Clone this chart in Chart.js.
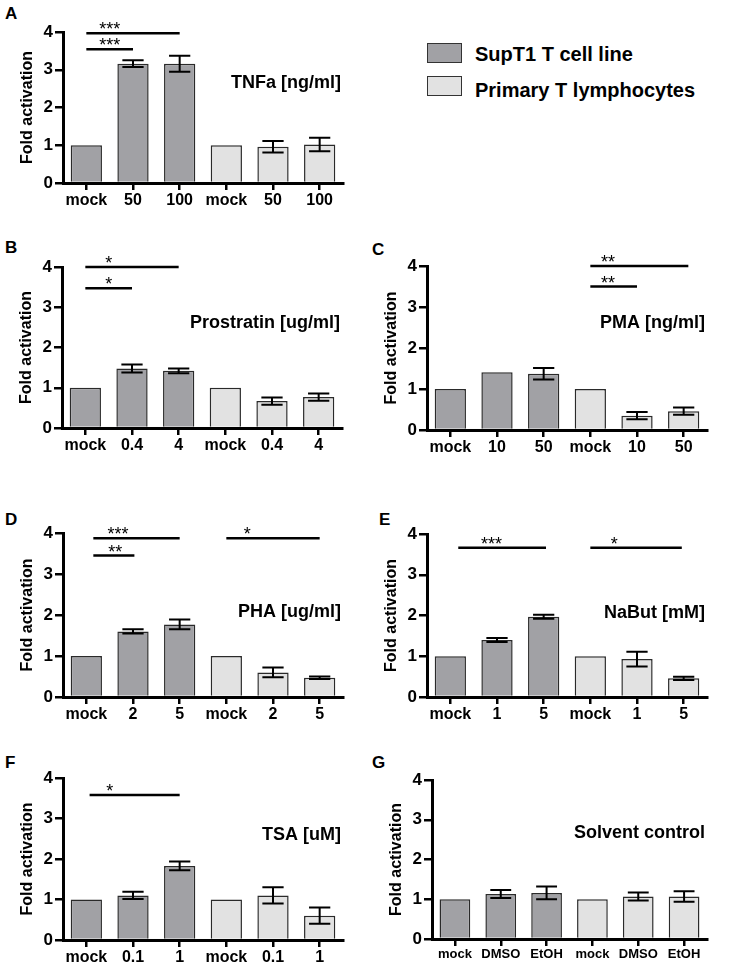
<!DOCTYPE html>
<html>
<head>
<meta charset="utf-8">
<script src="https://cdn.jsdelivr.net/npm/chart.js@4.4.1/dist/chart.umd.min.js"></script>
<style>
  body { margin: 0; background: #fff; width: 734px; height: 968px; position: relative; overflow: hidden;
         font-family: "Liberation Sans", Arial, sans-serif; }
  .letter { position: absolute; font-weight: bold; font-size: 17px; line-height: 17px; }
  .lgbox { position: absolute; width: 33px; height: 18px; border: 1.5px solid #333; }
  .lgtext { position: absolute; font-weight: bold; font-size: 20px; line-height: 20px; white-space: nowrap; }
  canvas { position: absolute; }
</style>
</head>
<body>

<div class="letter" style="left:5px;top:5px">A</div>
<div class="letter" style="left:5px;top:239px">B</div>
<div class="letter" style="left:372px;top:241px">C</div>
<div class="letter" style="left:5px;top:511px">D</div>
<div class="letter" style="left:379px;top:511px">E</div>
<div class="letter" style="left:5px;top:754px">F</div>
<div class="letter" style="left:372px;top:754px">G</div>

<div class="lgbox" style="left:427px;top:43px;background:#a1a1a5"></div>
<div class="lgtext" style="left:475px;top:44px">SupT1 T cell line</div>
<div class="lgbox" style="left:427px;top:76px;background:#e2e2e2"></div>
<div class="lgtext" style="left:475px;top:80px">Primary T lymphocytes</div>

<script>
// values (mean and error bar half-length)
var tnfLabels = ["mock", "50", "100", "mock", "50", "100"];
var tnfSupT1 = [1, 3.16, 3.16];
var tnfSupT1Err = [0, 0.09, 0.21];
var tnfPrimary = [1, 0.96, 1.02];
var tnfPrimaryErr = [0, 0.15, 0.18];
var tnfSig = [[0, 2, 3.97, "***", 0.5], [0, 1, 3.54, "***", 0.5]];

var proLabels = ["mock", "0.4", "4", "mock", "0.4", "4"];
var proSupT1 = [1, 1.48, 1.42];
var proSupT1Err = [0, 0.1, 0.06];
var proPrimary = [1, 0.67, 0.77];
var proPrimaryErr = [0, 0.09, 0.09];
var proSig = [[0, 2, 4, "*", 0.5], [0, 1, 3.47, "*", 0.5]];

var pmaLabels = ["mock", "10", "50", "mock", "10", "50"];
var pmaSupT1 = [1, 1.41, 1.37];
var pmaSupT1Err = [0, 0, 0.14];
var pmaPrimary = [1, 0.35, 0.46];
var pmaPrimaryErr = [0, 0.09, 0.09];
var pmaSig = [[3, 5.1, 4, "**", 3.38], [3, 4, 3.5, "**", 3.38]];

var phaLabels = ["mock", "2", "5", "mock", "2", "5"];
var phaSupT1 = [1, 1.6, 1.77];
var phaSupT1Err = [0, 0.05, 0.12];
var phaPrimary = [1, 0.6, 0.47];
var phaPrimaryErr = [0, 0.12, 0.03];
var phaSig = [[0.15, 2, 3.87, "***", 0.68], [0.15, 1.03, 3.45, "**", 0.62], [3, 5, 3.87, "*", 3.45]];

var nabLabels = ["mock", "1", "5", "mock", "1", "5"];
var nabSupT1 = [1, 1.4, 1.97];
var nabSupT1Err = [0, 0.05, 0.05];
var nabPrimary = [1, 0.93, 0.46];
var nabPrimaryErr = [0, 0.18, 0.04];
var nabSig = [[0.17, 2.05, 3.66, "***", 0.88], [3, 4.96, 3.66, "*", 3.51]];

var tsaLabels = ["mock", "0.1", "1", "mock", "0.1", "1"];
var tsaSupT1 = [1, 1.1, 1.83];
var tsaSupT1Err = [0, 0.09, 0.11];
var tsaPrimary = [1, 1.1, 0.6];
var tsaPrimaryErr = [0, 0.2, 0.2];
var tsaSig = [[0.07, 2, 3.58, "*", 0.5]];

var solLabels = ["mock", "DMSO", "EtOH", "mock", "DMSO", "EtOH"];
var solSupT1 = [1, 1.13, 1.16];
var solSupT1Err = [0, 0.1, 0.16];
var solPrimary = [1, 1.07, 1.07];
var solPrimaryErr = [0, 0.1, 0.13];
var solSig = [];

var supColor = "#a1a1a5";
var priColor = "#e2e2e2";

Chart.defaults.font.family = '"Liberation Sans", Arial, sans-serif';
Chart.defaults.font.weight = "bold";
Chart.defaults.color = "#000";

var YW = 45, XH = 32, PADTOP = 30, PADRIGHT = 8;

var errorBars = {
  id: "errorBars",
  afterDatasetsDraw: function (chart) {
    var ctx = chart.ctx, y = chart.scales.y;
    ctx.save();
    ctx.strokeStyle = "#000";
    ctx.lineWidth = 2;
    chart.data.datasets.forEach(function (ds, i) {
      var meta = chart.getDatasetMeta(i);
      meta.data.forEach(function (bar, j) {
        var v = ds.data[j], e = ds.errors[j];
        if (v == null || !e) return;
        var top = y.getPixelForValue(v + e), bot = y.getPixelForValue(v - e);
        var half = bar.width * 0.34;
        ctx.beginPath();
        ctx.moveTo(bar.x, top); ctx.lineTo(bar.x, bot);
        ctx.moveTo(bar.x - half, top); ctx.lineTo(bar.x + half, top);
        ctx.moveTo(bar.x - half, bot); ctx.lineTo(bar.x + half, bot);
        ctx.stroke();
      });
    });
    ctx.restore();
  }
};

var extras = {
  id: "extras",
  afterDraw: function (chart) {
    var ctx = chart.ctx, x = chart.scales.x, y = chart.scales.y;
    var o = chart.options.plugins.extras;
    ctx.save();
    ctx.strokeStyle = "#000";
    ctx.lineWidth = 2.5;
    o.sig.forEach(function (s) {
      var py = y.getPixelForValue(s[2]);
      ctx.beginPath();
      ctx.moveTo(x.getPixelForValue(s[0]), py);
      ctx.lineTo(x.getPixelForValue(s[1]), py);
      ctx.stroke();
      ctx.font = '18px "Liberation Sans", Arial, sans-serif';
      ctx.fillStyle = "#000";
      ctx.textAlign = "center";
      ctx.textBaseline = "alphabetic";
      ctx.fillText(s[3], x.getPixelForValue(s[4]), py + 2);
    });
    ctx.font = 'bold 18px "Liberation Sans", Arial, sans-serif';
    ctx.textAlign = "right";
    ctx.textBaseline = "middle";
    ctx.fillStyle = "#000";
    ctx.fillText(o.title, chart.chartArea.right - 2, y.getPixelForValue(o.titleY));
    ctx.restore();
  }
};

function makePanel(box, labels, supt1, supt1Err, primary, primaryErr, sig, title, titleY, tickSize) {
  var cv = document.createElement("canvas");
  cv.width = YW + (box.x1 - box.x0) + PADRIGHT;
  cv.height = PADTOP + (box.bottom - box.top) + XH;
  cv.style.left = (box.x0 - YW) + "px";
  cv.style.top = (box.top - PADTOP) + "px";
  document.body.appendChild(cv);

  new Chart(cv, {
    type: "bar",
    data: {
      labels: labels,
      datasets: [{
        label: "SupT1 T cell line",
        data: supt1.concat([null, null, null]),
        errors: supt1Err.concat([0, 0, 0]),
        backgroundColor: supColor,
        borderColor: "#2a2a2a",
        borderWidth: 1.5
      }, {
        label: "Primary T lymphocytes",
        data: [null, null, null].concat(primary),
        errors: [0, 0, 0].concat(primaryErr),
        backgroundColor: priColor,
        borderColor: "#2a2a2a",
        borderWidth: 1.5
      }]
    },
    options: {
      responsive: false,
      animation: false,
      skipNull: true,
      barPercentage: 0.67,
      categoryPercentage: 1,
      layout: { padding: { top: PADTOP, right: PADRIGHT, left: 0, bottom: 0 } },
      plugins: {
        legend: { display: false },
        tooltip: { enabled: false },
        extras: { sig: sig, title: title, titleY: titleY }
      },
      scales: {
        x: {
          offset: true,
          grid: { offset: false, drawOnChartArea: false, tickLength: 7, lineWidth: 2.5, color: "#000" },
          border: { width: 3, color: "#000" },
          ticks: { font: { size: tickSize, weight: "bold" }, padding: 1, maxRotation: 0, autoSkip: false },
          afterFit: function (s) { s.height = XH; }
        },
        y: {
          min: 0,
          max: 4,
          ticks: { stepSize: 1, font: { size: 17, weight: "bold" }, padding: 2 },
          grid: { drawOnChartArea: false, tickLength: 8, lineWidth: 2.5, color: "#000" },
          border: { width: 3, color: "#000" },
          title: { display: true, text: "Fold activation", font: { size: 16, weight: "bold" }, padding: 0 },
          afterFit: function (s) { s.width = YW; }
        }
      }
    },
    plugins: [errorBars, extras]
  });
}

makePanel({ x0: 63, x1: 343, top: 31.7, bottom: 183.3 }, tnfLabels, tnfSupT1, tnfSupT1Err, tnfPrimary, tnfPrimaryErr, tnfSig, "TNFa [ng/ml]", 2.65, 16);
makePanel({ x0: 62, x1: 342, top: 266.5, bottom: 428.3 }, proLabels, proSupT1, proSupT1Err, proPrimary, proPrimaryErr, proSig, "Prostratin [ug/ml]", 2.6, 16);
makePanel({ x0: 427, x1: 707, top: 265.7, bottom: 430 }, pmaLabels, pmaSupT1, pmaSupT1Err, pmaPrimary, pmaPrimaryErr, pmaSig, "PMA [ng/ml]", 2.62, 16);
makePanel({ x0: 62.5, x1: 342.5, top: 533, bottom: 697.3 }, phaLabels, phaSupT1, phaSupT1Err, phaPrimary, phaPrimaryErr, phaSig, "PHA [ug/ml]", 2.07, 16);
makePanel({ x0: 426.5, x1: 706.5, top: 534.3, bottom: 697.7 }, nabLabels, nabSupT1, nabSupT1Err, nabPrimary, nabPrimaryErr, nabSig, "NaBut [mM]", 2.07, 16);
makePanel({ x0: 63, x1: 343, top: 778, bottom: 940 }, tsaLabels, tsaSupT1, tsaSupT1Err, tsaPrimary, tsaPrimaryErr, tsaSig, "TSA [uM]", 2.6, 16);
makePanel({ x0: 432, x1: 707, top: 780, bottom: 939 }, solLabels, solSupT1, solSupT1Err, solPrimary, solPrimaryErr, solSig, "Solvent control", 2.67, 13);
</script>
</body>
</html>
